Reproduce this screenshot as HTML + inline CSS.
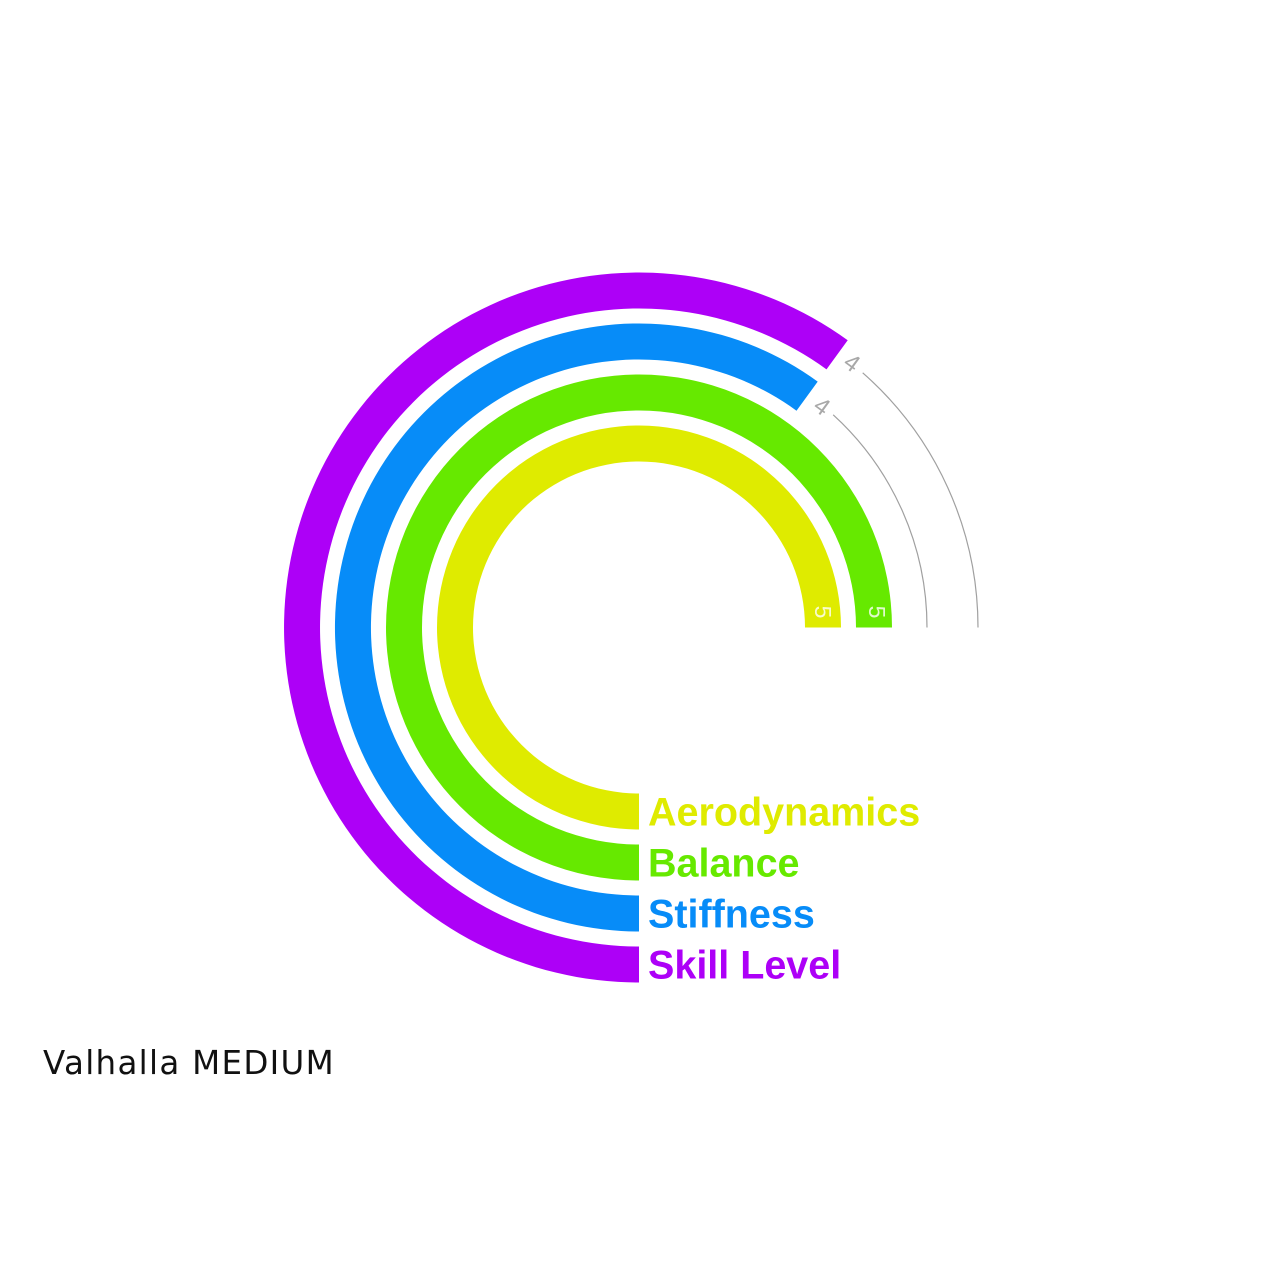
<!DOCTYPE html>
<html>
<head>
<meta charset="utf-8">
<style>
  html, body { margin: 0; padding: 0; background: #ffffff; }
  svg { display: block; }
</style>
</head>
<body>
<svg width="1280" height="1280" viewBox="0 0 1280 1280" xmlns="http://www.w3.org/2000/svg">
  <rect width="1280" height="1280" fill="#ffffff"/>

  <!-- Skill Level (purple), value 4 -->
  <path d="M 639 982.5 A 355 355 0 1 1 847.7 340.3 L 826.5 369.4 A 319 319 0 1 0 639 946.5 Z" fill="#ad00f7"/>
  <!-- Stiffness (blue), value 4 -->
  <path d="M 639 931.5 A 304 304 0 1 1 817.7 381.6 L 796.5 410.7 A 268 268 0 1 0 639 895.5 Z" fill="#078cf8"/>
  <!-- Balance (green), value 5 -->
  <path d="M 639 880.5 A 253 253 0 1 1 892 627.5 L 856 627.5 A 217 217 0 1 0 639 844.5 Z" fill="#66e900"/>
  <!-- Aerodynamics (yellow), value 5 -->
  <path d="M 639 829.5 A 202 202 0 1 1 841 627.5 L 805 627.5 A 166 166 0 1 0 639 793.5 Z" fill="#dfeb00"/>

  <!-- Gray remainder arcs -->
  <path d="M 862.7 372.8 A 339 339 0 0 1 978 627.5" fill="none" stroke="#a0a0a0" stroke-width="1.2"/>
  <path d="M 833.2 414.8 A 288 288 0 0 1 927 627.5" fill="none" stroke="#a0a0a0" stroke-width="1.2"/>

  <!-- Value labels -->
  <g font-family="'Liberation Sans', 'DejaVu Sans', sans-serif" text-anchor="middle" dominant-baseline="central">
    <text x="851.7" y="363.3" font-size="24" fill="#a8a8a8" transform="rotate(36 851.7 363.3)">4</text>
    <text x="821.7" y="406.7" font-size="24" fill="#a8a8a8" transform="rotate(36 821.7 406.7)">4</text>
    <text x="823" y="612" font-size="23" fill="#ffffff" fill-opacity="0.8" transform="rotate(90 823 612)">5</text>
    <text x="877" y="612" font-size="23" fill="#ffffff" fill-opacity="0.8" transform="rotate(90 877 612)">5</text>
  </g>

  <!-- Legend labels -->
  <g font-family="'Liberation Sans', 'DejaVu Sans', sans-serif" font-weight="bold" font-size="39.5">
    <text x="648" y="825.5" fill="#dfeb00">Aerodynamics</text>
    <text x="648" y="876.5" fill="#66e900">Balance</text>
    <text x="648" y="927.5" fill="#078cf8">Stiffness</text>
    <text x="648" y="978.5" fill="#ad00f7">Skill Level</text>
  </g>

  <!-- Title -->
  <text x="43" y="1074" font-family="'DejaVu Sans', 'Liberation Sans', sans-serif" font-size="32.5" letter-spacing="1.3" fill="#111111">Valhalla MEDIUM</text>
</svg>
</body>
</html>
